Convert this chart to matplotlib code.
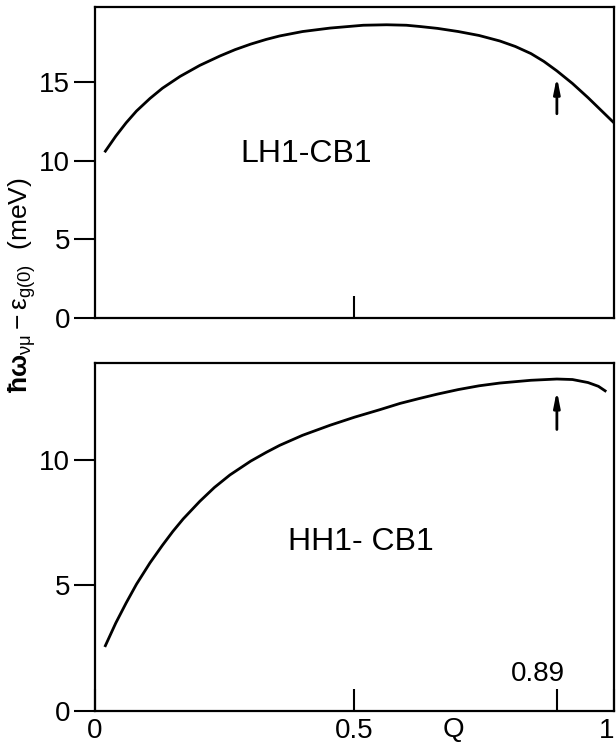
import matplotlib
matplotlib.use("Agg")
import matplotlib.pyplot as plt

plt.rcParams['font.family'] = ['Liberation Sans', 'DejaVu Sans']
plt.rcParams['mathtext.fontset'] = 'custom'
plt.rcParams['mathtext.rm'] = 'Liberation Sans'
plt.rcParams['mathtext.it'] = 'Liberation Sans'
plt.rcParams['mathtext.bf'] = 'Liberation Sans:bold'

# LH1-CB1 (top panel)
q_lh = [0.02, 0.04, 0.06, 0.08, 0.106, 0.13, 0.164, 0.202, 0.241, 0.27, 0.30,
        0.33, 0.356, 0.40, 0.453, 0.517, 0.562, 0.60, 0.626, 0.66, 0.70, 0.74,
        0.78, 0.81, 0.84, 0.865, 0.89, 0.92, 0.95, 0.975, 1.0]
e_lh = [10.6, 11.55, 12.4, 13.15, 13.95, 14.6, 15.35, 16.05, 16.65, 17.05, 17.4,
        17.7, 17.92, 18.2, 18.42, 18.6, 18.63, 18.6, 18.52, 18.4, 18.2, 17.95,
        17.6, 17.25, 16.8, 16.3, 15.7, 14.9, 14.0, 13.2, 12.4]

# HH1-CB1 (bottom panel)
q_hh = [0.02, 0.04, 0.06, 0.08, 0.106, 0.13, 0.15, 0.17, 0.202, 0.23, 0.26,
        0.30, 0.33, 0.356, 0.40, 0.453, 0.50, 0.549, 0.588, 0.626, 0.66, 0.70,
        0.74, 0.78, 0.84, 0.89, 0.92, 0.95, 0.97, 0.983]
e_hh = [2.6, 3.5, 4.3, 5.05, 5.9, 6.6, 7.15, 7.65, 8.35, 8.9, 9.4,
        9.95, 10.3, 10.58, 10.98, 11.38, 11.7, 12.0, 12.25, 12.45, 12.62, 12.8,
        12.95, 13.06, 13.17, 13.22, 13.2, 13.08, 12.93, 12.75]

q_mark = 0.89

fig = plt.figure(figsize=(6.16, 7.51), dpi=100)
ax1 = fig.add_axes([0.1542, 0.5766, 0.8425, 0.4141])
ax2 = fig.add_axes([0.1542, 0.0533, 0.8425, 0.4634])

for ax in (ax1, ax2):
    for s in ax.spines.values():
        s.set_linewidth(1.6)
    ax.set_xlim(0, 1)
    ax.tick_params(axis='y', direction='out', length=15, width=1.5, labelsize=20, pad=3)
    ax.tick_params(axis='x', direction='in', length=16, width=1.5, labelsize=20, pad=5)

ax1.plot(q_lh, e_lh, color='black', lw=2)
ax1.set_ylim(0, 19.76)
ax1.set_yticks([0, 5, 10, 15])
ax1.set_xticks([0.5])
ax1.set_xticklabels([''])
ax1.annotate('', xy=(q_mark, 15.5), xytext=(q_mark, 12.8),
             arrowprops=dict(arrowstyle='-|>,head_width=0.18,head_length=0.9',
                             color='black', lw=2))
ax1.text(0.406, 10.45, 'LH1-CB1', fontsize=23, ha='center', va='center')

ax2.plot(q_hh, e_hh, color='black', lw=2)
ax2.set_ylim(0, 13.86)
ax2.set_yticks([0, 5, 10])
ax2.set_xticks([0, 0.5, q_mark, 1])
ax2.set_xticklabels(['0', '0.5', '', '1'])
ax2.get_xticklabels()[-1].set_horizontalalignment('right')
ax2.annotate('', xy=(q_mark, 12.87), xytext=(q_mark, 11.1),
             arrowprops=dict(arrowstyle='-|>,head_width=0.18,head_length=0.9',
                             color='black', lw=2))
ax2.text(0.512, 6.73, 'HH1- CB1', fontsize=23, ha='center', va='center')
ax2.text(0.853, 1.47, '0.89', fontsize=20, ha='center', va='center')
ax2.text(0.69, -0.018, 'Q', fontsize=20, ha='center', va='top',
         transform=ax2.get_xaxis_transform())

fig.text(0.036, 1 - 285 / 751, r'$\mathbf{\hbar\omega}_{\nu\mu}-\varepsilon_{g(0)}$  (meV)',
         rotation=90, ha='center', va='center', fontsize=19)

fig.savefig('out.png', dpi=100)
